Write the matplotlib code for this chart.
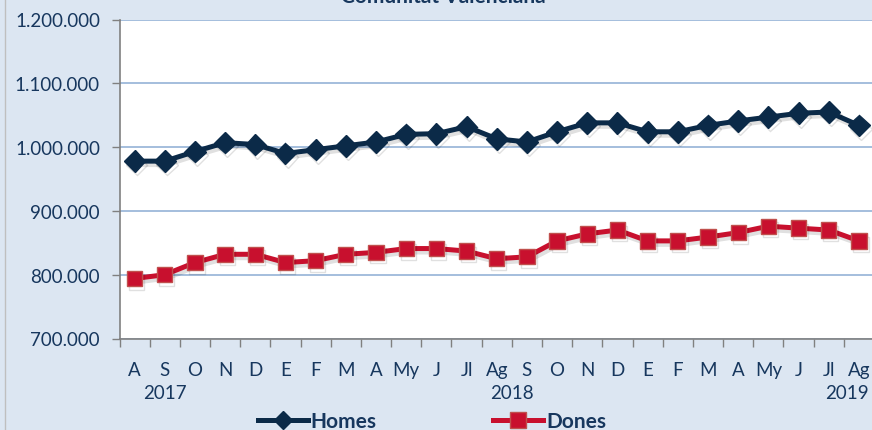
import matplotlib
matplotlib.use("Agg")
import matplotlib.pyplot as plt
import matplotlib.patheffects as pe
from matplotlib.ticker import FuncFormatter, FixedLocator
from matplotlib.lines import Line2D

months = ["A", "S", "O", "N", "D", "E", "F", "M", "A", "My", "J", "Jl", "Ag",
          "S", "O", "N", "D", "E", "F", "M", "A", "My", "J", "Jl", "Ag"]
years = ["2017", "2018", "2019"]
year_pos = [1, 12.5, 23.6]
homes = [978000, 978000, 993000, 1007000, 1004000, 990000, 996000, 1002000,
         1008000, 1020000, 1021000, 1032000, 1013000, 1008000, 1024000,
         1038000, 1038000, 1024000, 1024000, 1034000, 1041000, 1047000,
         1053000, 1055000, 1034000]
dones = [794000, 800000, 819000, 832000, 832000, 819000, 822000, 832000,
         835000, 841000, 841000, 837000, 825000, 828000, 853000, 864000,
         870000, 853000, 853000, 859000, 866000, 876000, 873000, 870000,
         853000]
title = "Comunitat Valenciana"

plt.rcParams['font.family'] = ['Lato', 'DejaVu Sans']
txt = "#17375E"
bg = "#DCE6F2"

fig = plt.figure(figsize=(8.72, 4.31), dpi=100, facecolor=bg)
W, H = 872, 431
left, right, top, bottom = 119.5, 874, 20.5, 339.5
ax = fig.add_axes([left / W, 1 - bottom / H, (right - left) / W, (bottom - top) / H])
ax.set_facecolor("white")

x = list(range(len(months)))
shadow = [pe.SimpleLineShadow(offset=(1.5, -2.5), alpha=0.12, shadow_color="black"), pe.Normal()]
ax.plot(x, homes, color="#0B2A48", lw=3.6, marker="D", markersize=11,
        markerfacecolor="#0B2A48", markeredgecolor="#0B2A48", path_effects=shadow,
        zorder=3, solid_joinstyle="round")
ax.plot(x, dones, color="#C8102E", lw=3.6, marker="s", markersize=11,
        markerfacecolor="#C8102E", markeredgecolor="#C0504D", markeredgewidth=1.0,
        path_effects=shadow, zorder=3)

ax.set_xlim(-0.5, len(months) - 0.5)
ax.set_ylim(700000, 1200000)
yt = [700000, 800000, 900000, 1000000, 1100000, 1200000]
ax.set_yticks(yt)
ax.yaxis.set_major_formatter(FuncFormatter(lambda v, p: f"{int(v):,}".replace(",", ".")))
ax.grid(axis="y", color="#95B3D7", lw=1.2)
ax.set_axisbelow(True)

ax.set_xticks(x)
ax.set_xticklabels(months)
ax.xaxis.set_minor_locator(FixedLocator([i - 0.5 for i in range(len(months) + 1)]))
ax.tick_params(axis="x", which="major", length=0, pad=16, labelsize=13.5, labelcolor=txt)
ax.tick_params(axis="x", which="minor", length=6, color="#808080", width=1)
ax.tick_params(axis="y", length=6, color="#808080", width=1, labelsize=13.5,
               labelcolor=txt, pad=8)

for s in ["top", "right"]:
    ax.spines[s].set_visible(False)
ax.spines["left"].set_color("#808080")
ax.spines["bottom"].set_color("#808080")
ax.spines["left"].set_linewidth(1.2)
ax.spines["bottom"].set_linewidth(1.2)

for yp, yl in zip(year_pos, years):
    ax.text(yp, -0.17, yl, transform=ax.get_xaxis_transform(), ha="center",
            va="center", fontsize=13.5, color=txt)

fig.text(443 / W, 1 - 3 / H, title, ha="center", va="baseline", fontsize=15,
         fontweight="bold", color=txt)

handles = [Line2D([], [], color="#0B2A48", lw=3.6, marker="D", markersize=9,
                  markerfacecolor="#0B2A48"),
           Line2D([], [], color="#C8102E", lw=3.6, marker="s", markersize=11,
                  markerfacecolor="#C8102E", markeredgecolor="#C0504D")]
leg = fig.legend(handles, ["Homes", "Dones"], loc="center", ncol=2,
                 bbox_to_anchor=(432 / W, 1 - 422 / H), frameon=False,
                 handlelength=2.4, handletextpad=0.15, columnspacing=5.6,
                 prop={"weight": "bold", "size": 15})
for t in leg.get_texts():
    t.set_color(txt)

fig.add_artist(Line2D([5 / W, 5 / W], [0, 1], color="#BFBFBF", lw=1, transform=fig.transFigure))

fig.savefig("out.png", dpi=100, facecolor=bg)
